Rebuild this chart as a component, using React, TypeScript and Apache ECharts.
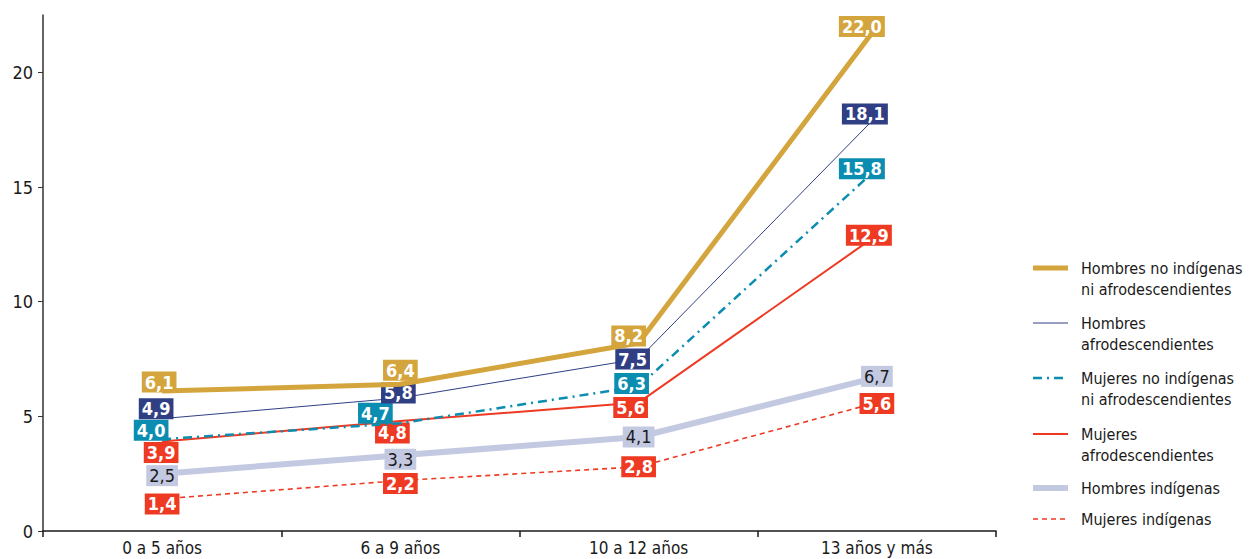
import React, { useEffect, useRef } from "react";
import * as echarts from "echarts";

const categories = ["0 a 5 años", "6 a 9 años", "10 a 12 años", "13 años y más"];
const seriesNames = [
  "Hombres no indígenas\nni afrodescendientes",
  "Hombres\nafrodescendientes",
  "Mujeres no indígenas\nni afrodescendientes",
  "Mujeres\nafrodescendientes",
  "Hombres indígenas",
  "Mujeres indígenas",
];
const hombresNoIndigenas = [6.1, 6.4, 8.2, 22.0];
const hombresAfro = [4.9, 5.8, 7.5, 18.1];
const mujeresNoIndigenas = [4.0, 4.7, 6.3, 15.8];
const mujeresAfro = [3.9, 4.8, 5.6, 12.9];
const hombresIndigenas = [2.5, 3.3, 4.1, 6.7];
const mujeresIndigenas = [1.4, 2.2, 2.8, 5.6];
const yTicks = [0, 5, 10, 15, 20];

// label offsets (pixels) per series, per category
const labelOffsets = [
  [[-3, -9], [0, -14], [-10, -7], [-15, 0]],
  [[-6, -10], [-2, -5], [-6, 0], [-12, -2]],
  [[-11, -9], [-25, -10], [-7, -3], [-15, 0]],
  [[-1, 11], [-8, 12], [-8, 5], [-8, 0]],
  [[0, 2], [0, 4], [0, 0], [0, -1]],
  [[0, 5], [0, 3], [0, 0], [0, 1]],
];

// legend layout (first-line centre y of each entry)
const legendRowY = [268, 323, 378, 434, 488, 519];
const LEGEND_ICON_X = 1033;
const LEGEND_ICON_W = 35;
const LEGEND_TEXT_X = 1081;

const FONT = "'DejaVu Sans Condensed', 'Roboto', sans-serif";

const colors = ["#D4A53D", "#303F84", "#0B8DB1", "#EE3A23", "#C4C9E2", "#EE3A23"];
const lineStyles: any[] = [
  { width: 5, type: "solid" },
  { width: 1, type: "solid" },
  { width: 2.5, type: [9, 5, 2, 5] },
  { width: 2, type: "solid" },
  { width: 6, type: "solid" },
  { width: 1.6, type: [5, 4] },
];

const fmt = (v: number) => v.toFixed(1).replace(".", ",");

export default function App() {
  const ref = useRef<HTMLDivElement>(null);
  useEffect(() => {
    if (!ref.current) return;
    const chart = echarts.init(ref.current, null, { renderer: "svg" });
    const allData = [
      hombresNoIndigenas,
      hombresAfro,
      mujeresNoIndigenas,
      mujeresAfro,
      hombresIndigenas,
      mujeresIndigenas,
    ];
    const series = allData.map((d, si) => ({
      name: seriesNames[si],
      type: "line",
      data: d.map((v, i) => ({
        value: v,
        label: { offset: labelOffsets[si][i] },
      })),
      symbol: "circle",
      symbolSize: 1,
      itemStyle: { color: colors[si] },
      lineStyle: { color: colors[si], ...lineStyles[si] },
      z: 10 - si,
      label: {
        show: true,
        position: "inside",
        formatter: (p: any) => fmt(p.value),
        backgroundColor: colors[si],
        color: si === 4 ? "#1a1a1a" : "#ffffff",
        fontWeight: si === 4 ? "normal" : "bold",
        fontFamily: FONT,
        fontSize: 18,
        padding: [2, 3, 0, 3],
        lineHeight: 19,
      },
    }));

    const legendGraphics: any[] = [];
    seriesNames.forEach((name, i) => {
      const y = legendRowY[i];
      const ls = lineStyles[i];
      legendGraphics.push({
        type: "line",
        shape: { x1: LEGEND_ICON_X, y1: y, x2: LEGEND_ICON_X + LEGEND_ICON_W, y2: y },
        style: {
          stroke: colors[i],
          lineWidth: ls.width,
          lineDash: Array.isArray(ls.type) ? ls.type : null,
        },
      });
      legendGraphics.push({
        type: "text",
        x: LEGEND_TEXT_X,
        y: y - 10.5,
        style: {
          text: name,
          fill: "#1a1a1a",
          font: `16px ${FONT}`,
          fontFamily: FONT,
          fontSize: 16,
          lineHeight: 21,
          verticalAlign: "top",
          align: "left",
        },
      });
    });

    chart.setOption({
      animation: false,
      grid: { left: 43, right: 262, top: 15, bottom: 28, containLabel: false },
      xAxis: {
        type: "category",
        data: categories,
        boundaryGap: true,
        axisLine: { lineStyle: { color: "#1a1a1a", width: 1.5 } },
        axisTick: { show: true, length: 6, interval: 0, lineStyle: { color: "#1a1a1a", width: 1.5 } },
        axisLabel: { color: "#1a1a1a", fontFamily: FONT, fontSize: 17, margin: 8 },
      },
      yAxis: {
        type: "value",
        min: 0,
        max: 22.5,
        splitLine: { show: false },
        axisLine: { show: true, lineStyle: { color: "#333", width: 1.5 } },
        axisTick: { show: true, length: 5, customValues: yTicks, lineStyle: { color: "#333", width: 1 } },
        axisLabel: { color: "#1a1a1a", fontFamily: FONT, fontSize: 18, margin: 10, customValues: yTicks },
      },
      graphic: legendGraphics,
      series,
    });
    return () => chart.dispose();
  }, []);
  return (
    <div
      ref={ref}
      style={{ position: "absolute", left: 0, top: 0, width: 1258, height: 559 }}
    />
  );
}
